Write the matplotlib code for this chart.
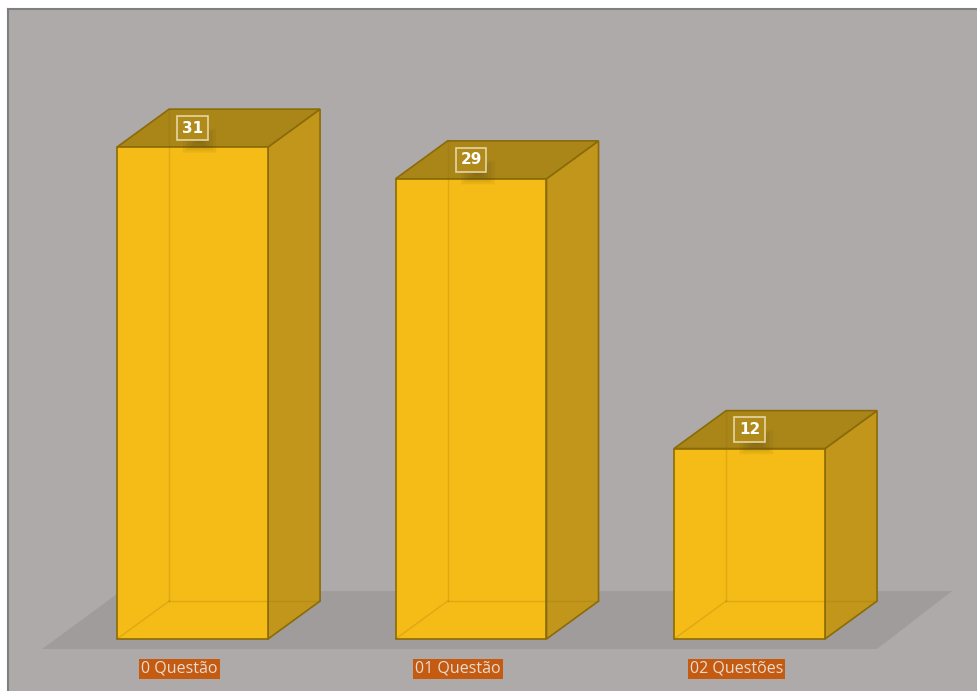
#!/usr/bin/env python3
"""3D-style bar chart: number of questions answered."""

import matplotlib.pyplot as plt
from matplotlib.patches import FancyBboxPatch, Polygon

categories = ["0 Questão", "01 Questão", "02 Questões"]
counts = [31, 29, 12]

FRONT = "#f5bb16"
SIDE = "#c2961a"
TOP = "#aa8619"
EDGE = "#8a6b08"
PANEL = "#aeaaa9"
FLOOR = "#9f9c9b"

WIDTH = 0.542   # bar width in category units
DX = 0.187      # depth offset, x
DY = 2.39       # depth offset, y


def main():
    fig = plt.figure(figsize=(9.78, 6.91), dpi=100)
    fig.patch.set_facecolor("white")
    ax = fig.add_axes([8 / 978, 0, 970 / 978, 682 / 691])
    ax.set_facecolor(PANEL)
    ax.set_xlim(-0.6625, 2.8205)
    ax.set_ylim(-3.277, 39.70)
    ax.set_xticks([])
    ax.set_yticks([])
    for side in ("right", "bottom"):
        ax.spines[side].set_visible(False)
    for side in ("left", "top"):
        ax.spines[side].set_color("#7f7f7f")
        ax.spines[side].set_linewidth(1.5)

    # floor
    ax.add_patch(Polygon([(-0.540, -0.63), (2.458, -0.63), (2.727, 3.02), (-0.257, 3.02)],
                         closed=True, facecolor=FLOOR, edgecolor="none", zorder=1))

    bars = ax.bar(range(len(counts)), counts, width=WIDTH, color=FRONT,
                  edgecolor=EDGE, linewidth=1.2, zorder=4)

    for i, (rect, v) in enumerate(zip(bars, counts)):
        x0 = rect.get_x()
        x1 = x0 + rect.get_width()
        h = rect.get_height()
        # right side and top faces
        ax.add_patch(Polygon([(x1, 0), (x1 + DX, DY), (x1 + DX, h + DY), (x1, h)],
                             closed=True, facecolor=SIDE, edgecolor=EDGE, linewidth=1.2, zorder=3))
        ax.add_patch(Polygon([(x0, h), (x0 + DX, h + DY), (x1 + DX, h + DY), (x1, h)],
                             closed=True, facecolor=TOP, edgecolor=EDGE, linewidth=1.2, zorder=3))
        # hidden back edges seen through the translucent faces
        bx, by = x0 + DX, DY
        for xx, yy in (([x0, bx], [0, by]), ([bx, bx], [by, h + DY]), ([bx, x1 + DX], [by, by])):
            ax.plot(xx, yy, color=EDGE, lw=1.0, alpha=0.22, zorder=5)

        # value label on the top face, with a soft shadow
        cx = x0 + rect.get_width() / 2
        cy = h + 1.2
        for k in range(6):
            g = 0.012 * k
            ax.add_patch(FancyBboxPatch((cx - 0.035 + g, cy - 1.55 + g * 12), 0.12 - 2 * g, 1.5 - g * 24,
                                        boxstyle="round,pad=0.0", facecolor="#4a3c10",
                                        alpha=0.07, edgecolor="none", zorder=5))
        ax.text(cx, cy, str(v), ha="center", va="center", fontsize=11, fontweight="bold",
                color="white", zorder=6,
                bbox=dict(boxstyle="square,pad=0.3", facecolor="#b08a1a",
                          edgecolor="#e6d6a2", linewidth=1.2))

        ax.text(cx - 0.047, -1.89, categories[i],
                ha="center", va="center", fontsize=11.5, color="#e8ddd3",
                family="Open Sans", zorder=6,
                bbox=dict(boxstyle="square,pad=0.12", facecolor="#c55a11", edgecolor="none"))

    fig.savefig("out.png", dpi=100)


if __name__ == "__main__":
    main()
